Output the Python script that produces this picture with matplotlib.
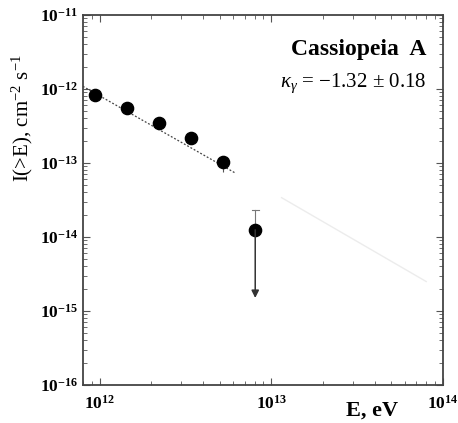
import matplotlib
matplotlib.use("Agg")
import matplotlib.pyplot as plt
import matplotlib.ticker as mticker
import numpy as np

# measured points, Cassiopeia A integral flux
energy = [9.4e11, 1.45e12, 2.21e12, 3.41e12, 5.21e12]
flux = [8.3e-13, 5.58e-13, 3.44e-13, 2.16e-13, 1.03e-13]
flux_lo = [8.3e-13, 5.58e-13, 3.44e-13, 2.16e-13, 0.76e-13]

# upper limit point
ul_energy = 8.07e12
ul_flux = 1.25e-14
ul_top = 2.32e-14
ul_arrow_end = 1.5e-15

# power law fit (dotted) and faint extrapolation
fit_norm = 8.1e-13
fit_index = -1.32
fit_range = [8.0e11, 6.24e12]
faint_e = [1.15e13, 8.0e13]
faint_i = [3.4e-14, 2.5e-15]

x_major = [1e12, 1e13, 1e14]
y_major = [1e-16, 1e-15, 1e-14, 1e-13, 1e-12, 1e-11]

plt.rcParams['font.family'] = ['Liberation Serif', 'DejaVu Serif']
plt.rcParams['mathtext.fontset'] = 'custom'
plt.rcParams['mathtext.rm'] = 'Liberation Serif'
plt.rcParams['mathtext.it'] = 'Liberation Serif:italic'
plt.rcParams['mathtext.bf'] = 'Liberation Serif:bold'

fig = plt.figure(figsize=(4.58, 4.23), dpi=100)
ax = fig.add_axes([0.181, 0.0898, 0.786, 0.8747])

ax.set_xscale('log')
ax.set_yscale('log')
ax.set_xlim(8.0e11, 1e14)
ax.set_ylim(1e-16, 1e-11)

# fit line
fe = np.array(fit_range)
ax.plot(fe, fit_norm * (fe / 1e12) ** fit_index, ls=(0, (1.5, 1.5)), color='#444444', lw=0.9)
ax.plot(faint_e, faint_i, color='#ececec', lw=1.0)

# data
yerr = [np.array(flux) - np.array(flux_lo), np.zeros(len(flux))]
ax.errorbar(energy, flux, yerr=yerr, fmt='o', color='black', ms=8.8,
            ecolor='#555555', elinewidth=0.8, capsize=0)

# upper limit with arrow
ax.plot([ul_energy, ul_energy], [ul_flux, ul_top], color='#777777', lw=0.8)
ax.plot([ul_energy * 0.955, ul_energy * 1.047], [ul_top, ul_top], color='#777777', lw=0.8)
ax.annotate('', xy=(ul_energy, ul_arrow_end), xytext=(ul_energy, ul_flux),
            arrowprops=dict(arrowstyle='-|>', color='#333333', lw=1.1,
                            mutation_scale=11, shrinkA=0, shrinkB=0))
ax.plot([ul_energy], [ul_flux], 'o', color='black', ms=8.8)

def fmt(v, pos):
    e = int(round(np.log10(v)))
    return r'$\mathbf{10}^{\mathbf{%d}}$' % e

ax.xaxis.set_major_locator(mticker.FixedLocator(x_major))
ax.yaxis.set_major_locator(mticker.FixedLocator(y_major))
ax.xaxis.set_major_formatter(mticker.FuncFormatter(fmt))
ax.yaxis.set_major_formatter(mticker.FuncFormatter(fmt))
ax.xaxis.set_minor_formatter(mticker.NullFormatter())
ax.yaxis.set_minor_formatter(mticker.NullFormatter())
ax.yaxis.set_minor_locator(mticker.LogLocator(base=10, subs=np.arange(2, 10), numticks=20))
ax.xaxis.set_minor_locator(mticker.LogLocator(base=10, subs=np.arange(2, 10), numticks=20))

ax.tick_params(which='both', direction='in', top=True, right=True, color='#555555')
ax.tick_params(which='major', length=5, width=0.8, labelsize=12.5)
ax.tick_params(which='minor', length=3, width=0.6)
ax.tick_params(axis='x', which='major', pad=7)
for sp in ax.spines.values():
    sp.set_linewidth(1.3)
    sp.set_color('#444444')

fig.text(0.048, 0.72, r'I(>E), cm$^{-2}$ s$^{-1}$', rotation=90, fontsize=15,
         ha='center', va='center')
fig.text(0.812, 0.03, 'E, eV', fontsize=16, fontweight='bold', ha='center', va='center')
fig.text(0.932, 0.882, 'Cassiopeia  A', fontsize=17, fontweight='bold', ha='right', va='center')
fig.text(0.932, 0.804, r'$\kappa_{\gamma}$ = $-$1.32 $\pm$ 0.18', fontsize=15,
         ha='right', va='center')

fig.savefig('out.png', dpi=100)
